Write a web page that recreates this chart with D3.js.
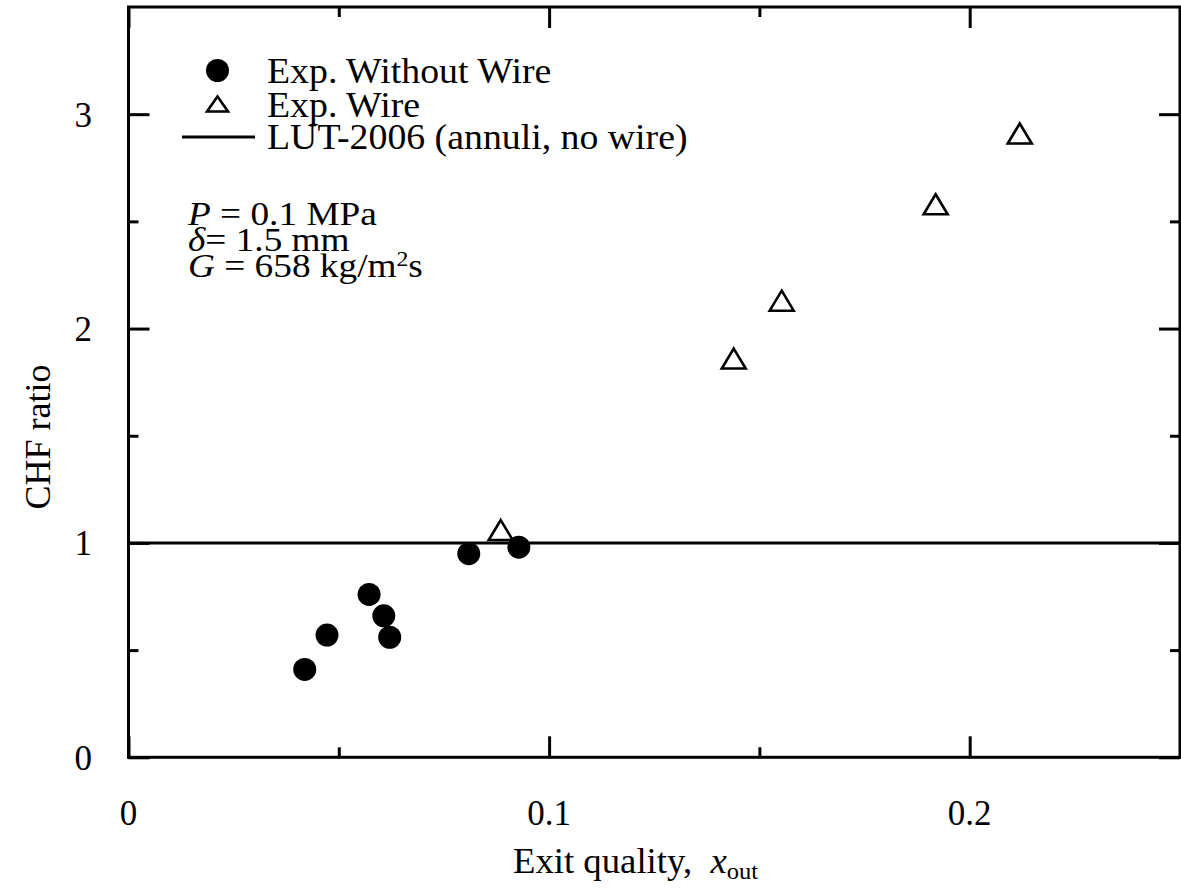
<!DOCTYPE html>
<html>
<head>
<meta charset="utf-8">
<script src="https://cdn.jsdelivr.net/npm/d3@7"></script>
<style>
  body { margin: 0; background: #fff; }
  text { font-family: "Liberation Serif", "Times New Roman", serif; fill: #000; }
</style>
</head>
<body>
<svg id="chart" width="1181" height="896"></svg>
<script>
// Measured CHF ratios versus exit quality
const noWireX = [0.0419, 0.0472, 0.0572, 0.0607, 0.0621, 0.0809, 0.0928];
const noWireY = [0.41, 0.57, 0.76, 0.66, 0.56, 0.95, 0.98];
const wireX = [0.0885, 0.1439, 0.1553, 0.1919, 0.2119];
const wireY = [1.06, 1.86, 2.13, 2.58, 2.91];
const lutRatio = 1.0;

const xMajor = [0, 0.1, 0.2];
const xMinor = [0.05, 0.15];
const yMajor = [0, 1, 2, 3];
const yMinor = [0.5, 1.5, 2.5];
const xLabels = ["0", "0.1", "0.2"];
const yLabels = ["0", "1", "2", "3"];

const legendLabels = ["Exp. Without Wire", "Exp. Wire", "LUT-2006 (annuli, no wire)"];

const svg = d3.select("#chart");
const plotL = 128.5, plotR = 1180, plotT = 7, plotB = 757.3;

const x = d3.scaleLinear().domain([0, 0.25]).range([plotL, plotR]);
const y = d3.scaleLinear().domain([0, 3.5]).range([plotB, plotT]);

// Inward ticks on all four sides
function ticks(axisFn, vals, len, tr) {
  const g = svg.append("g").attr("transform", tr)
    .call(axisFn.tickValues(vals).tickSizeInner(-len).tickSizeOuter(0).tickFormat(""));
  g.select(".domain").remove();
  g.selectAll(".tick line").attr("stroke", "#000").attr("stroke-width", 3);
  return g;
}
ticks(d3.axisBottom(x), xMajor, 21, `translate(0,${plotB})`);
ticks(d3.axisBottom(x), xMinor, 10, `translate(0,${plotB})`);
ticks(d3.axisTop(x), xMajor, 21, `translate(0,${plotT})`);
ticks(d3.axisTop(x), xMinor, 10, `translate(0,${plotT})`);
ticks(d3.axisLeft(y), yMajor, 21, `translate(${plotL},0)`);
ticks(d3.axisLeft(y), yMinor, 10, `translate(${plotL},0)`);
ticks(d3.axisRight(y), yMajor, 21, `translate(${plotR},0)`);
ticks(d3.axisRight(y), yMinor, 10, `translate(${plotR},0)`);

// Frame
svg.append("rect")
  .attr("x", plotL).attr("y", plotT)
  .attr("width", plotR - plotL).attr("height", plotB - plotT)
  .attr("fill", "none").attr("stroke", "#000").attr("stroke-width", 3);

// Text helper; sx widens the face slightly
function label(px, py, anchor, size, rot, sx) {
  const r = rot ? ` rotate(${rot})` : "";
  const s = sx ? ` scale(${sx},1)` : "";
  return svg.append("text")
    .attr("transform", `translate(${px},${py})${r}${s}`)
    .attr("text-anchor", anchor)
    .style("font-size", size + "px");
}

// Tick labels
xMajor.forEach((v, i) => label(x(v), 825, "middle", 35).text(xLabels[i]));
yMajor.forEach((v, i) => label(92, y(v) + 12.5, "end", 35).text(yLabels[i]));

// Axis titles
const xt = label(513, 873, "start", 36, 0, 1.02);
xt.append("tspan").text("Exit quality,\u00a0 ");
xt.append("tspan").style("font-style", "italic").text("x");
xt.append("tspan").attr("dy", 6).style("font-size", "24px").text("out");

label(50, 437, "middle", 36, -90).text("CHF ratio");

// LUT-2006 reference line
svg.append("line")
  .attr("x1", x(0)).attr("x2", x(0.25))
  .attr("y1", y(lutRatio)).attr("y2", y(lutRatio))
  .attr("stroke", "#000").attr("stroke-width", 3);

// Triangle centred on its bounding box
function triPath(hw, hh) {
  return `M0,${-hh}L${hw},${hh}L${-hw},${hh}Z`;
}

// Data without wire
svg.append("g").selectAll("circle")
  .data(d3.zip(noWireX, noWireY))
  .join("circle")
  .attr("cx", d => x(d[0])).attr("cy", d => y(d[1]))
  .attr("r", 11.5).attr("fill", "#000");

// Data with wire
svg.append("g").selectAll("path")
  .data(d3.zip(wireX, wireY))
  .join("path")
  .attr("transform", d => `translate(${x(d[0])},${y(d[1])})`)
  .attr("d", triPath(12, 10))
  .attr("fill", "#fff").attr("stroke", "#000").attr("stroke-width", 2.6)
  .attr("stroke-linejoin", "miter");

// Legend
svg.append("circle").attr("cx", 217.5).attr("cy", 70.5).attr("r", 11.5).attr("fill", "#000");
svg.append("path").attr("transform", "translate(217.5,104)")
  .attr("d", triPath(10.5, 7.5))
  .attr("fill", "#fff").attr("stroke", "#000").attr("stroke-width", 2.6);
svg.append("line").attr("x1", 182).attr("x2", 255).attr("y1", 137).attr("y2", 137)
  .attr("stroke", "#000").attr("stroke-width", 3);
[83, 117, 149].forEach((by, i) => label(267, by, "start", 36, 0, 1.05).text(legendLabels[i]));

// Operating conditions
const a1 = label(188, 225, "start", 33, 0, 1.13);
a1.append("tspan").style("font-style", "italic").text("P");
a1.append("tspan").text(" = 0.1 MPa");
const a2 = label(188, 251, "start", 33, 0, 1.13);
a2.append("tspan").style("font-style", "italic").text("δ");
a2.append("tspan").text("= 1.5 mm");
const a3 = label(188, 277, "start", 33, 0, 1.13);
a3.append("tspan").style("font-style", "italic").text("G");
a3.append("tspan").text(" = 658 kg/m");
a3.append("tspan").attr("dy", -11).style("font-size", "21px").text("2");
a3.append("tspan").attr("dy", 11).text("s");
</script>
</body>
</html>
